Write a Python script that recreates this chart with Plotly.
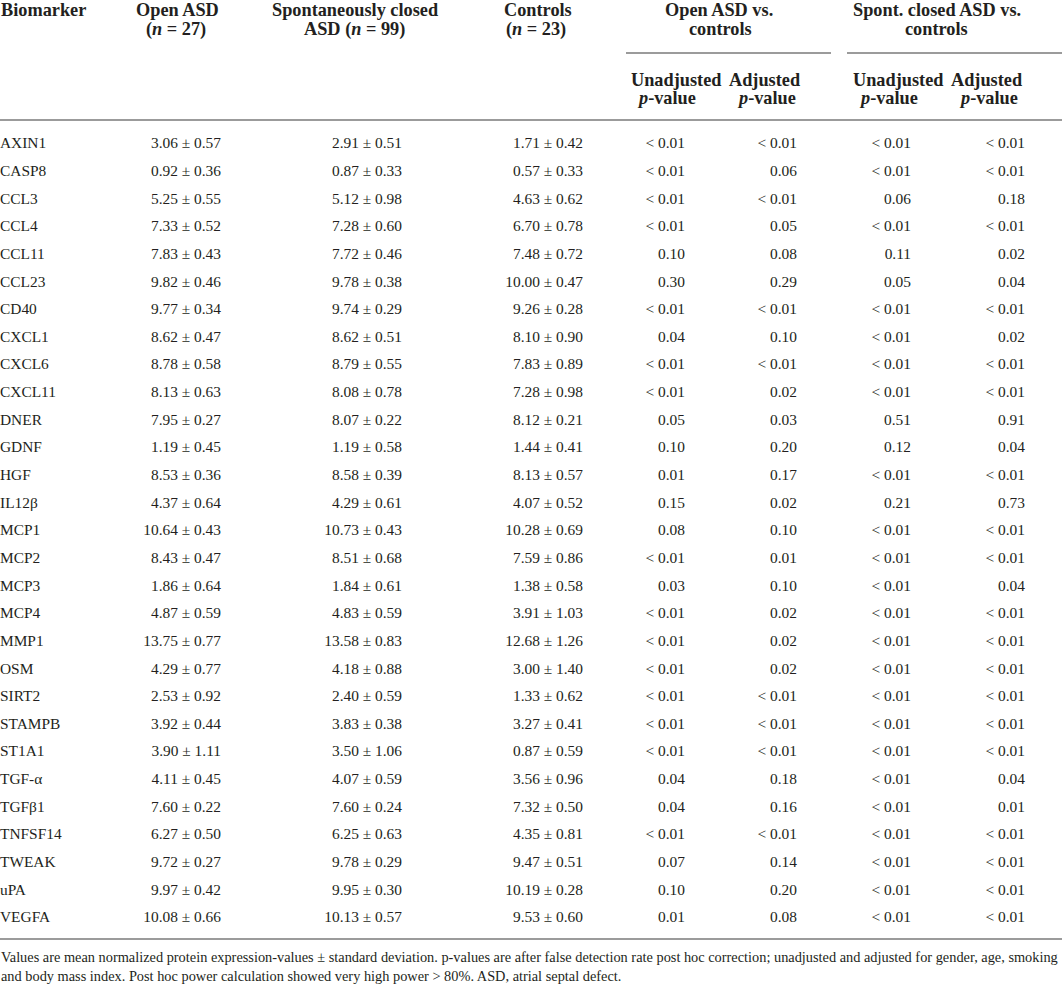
import plotly.graph_objects as go

# ---------------- data ----------------
biomarkers = ["AXIN1", "CASP8", "CCL3", "CCL4", "CCL11", "CCL23", "CD40", "CXCL1", "CXCL6",
              "CXCL11", "DNER", "GDNF", "HGF", "IL12β", "MCP1", "MCP2", "MCP3", "MCP4", "MMP1",
              "OSM", "SIRT2", "STAMPB", "ST1A1", "TGF-α", "TGFβ1", "TNFSF14", "TWEAK", "uPA", "VEGFA"]

open_mean = [3.06, 0.92, 5.25, 7.33, 7.83, 9.82, 9.77, 8.62, 8.78, 8.13, 7.95, 1.19, 8.53, 4.37, 10.64,
             8.43, 1.86, 4.87, 13.75, 4.29, 2.53, 3.92, 3.90, 4.11, 7.60, 6.27, 9.72, 9.97, 10.08]
open_sd = [0.57, 0.36, 0.55, 0.52, 0.43, 0.46, 0.34, 0.47, 0.58, 0.63, 0.27, 0.45, 0.36, 0.64, 0.43,
           0.47, 0.64, 0.59, 0.77, 0.77, 0.92, 0.44, 1.11, 0.45, 0.22, 0.50, 0.27, 0.42, 0.66]
closed_mean = [2.91, 0.87, 5.12, 7.28, 7.72, 9.78, 9.74, 8.62, 8.79, 8.08, 8.07, 1.19, 8.58, 4.29, 10.73,
               8.51, 1.84, 4.83, 13.58, 4.18, 2.40, 3.83, 3.50, 4.07, 7.60, 6.25, 9.78, 9.95, 10.13]
closed_sd = [0.51, 0.33, 0.98, 0.60, 0.46, 0.38, 0.29, 0.51, 0.55, 0.78, 0.22, 0.58, 0.39, 0.61, 0.43,
             0.68, 0.61, 0.59, 0.83, 0.88, 0.59, 0.38, 1.06, 0.59, 0.24, 0.63, 0.29, 0.30, 0.57]
ctrl_mean = [1.71, 0.57, 4.63, 6.70, 7.48, 10.00, 9.26, 8.10, 7.83, 7.28, 8.12, 1.44, 8.13, 4.07, 10.28,
             7.59, 1.38, 3.91, 12.68, 3.00, 1.33, 3.27, 0.87, 3.56, 7.32, 4.35, 9.47, 10.19, 9.53]
ctrl_sd = [0.42, 0.33, 0.62, 0.78, 0.72, 0.47, 0.28, 0.90, 0.89, 0.98, 0.21, 0.41, 0.57, 0.52, 0.69,
           0.86, 0.58, 1.03, 1.26, 1.40, 0.62, 0.41, 0.59, 0.96, 0.50, 0.81, 0.51, 0.28, 0.60]

open_unadj = ["<0.01", "<0.01", "<0.01", "<0.01", "0.10", "0.30", "<0.01", "0.04", "<0.01", "<0.01",
              "0.05", "0.10", "0.01", "0.15", "0.08", "<0.01", "0.03", "<0.01", "<0.01", "<0.01",
              "<0.01", "<0.01", "<0.01", "0.04", "0.04", "<0.01", "0.07", "0.10", "0.01"]
open_adj = ["<0.01", "0.06", "<0.01", "0.05", "0.08", "0.29", "<0.01", "0.10", "<0.01", "0.02",
            "0.03", "0.20", "0.17", "0.02", "0.10", "0.01", "0.10", "0.02", "0.02", "0.02",
            "<0.01", "<0.01", "<0.01", "0.18", "0.16", "<0.01", "0.14", "0.20", "0.08"]
closed_unadj = ["<0.01", "<0.01", "0.06", "<0.01", "0.11", "0.05", "<0.01", "<0.01", "<0.01", "<0.01",
                "0.51", "0.12", "<0.01", "0.21", "<0.01", "<0.01", "<0.01", "<0.01", "<0.01", "<0.01",
                "<0.01", "<0.01", "<0.01", "<0.01", "<0.01", "<0.01", "<0.01", "<0.01", "<0.01"]
closed_adj = ["<0.01", "<0.01", "0.18", "<0.01", "0.02", "0.04", "<0.01", "0.02", "<0.01", "<0.01",
              "0.91", "0.04", "<0.01", "0.73", "<0.01", "<0.01", "0.04", "<0.01", "<0.01", "<0.01",
              "<0.01", "<0.01", "<0.01", "0.04", "0.01", "<0.01", "<0.01", "<0.01", "<0.01"]

header_top = ["Biomarker", "Open ASD", "Spontaneously closed", "Controls",
              "Open ASD vs.", "Spont. closed ASD vs."]
header_second = ["", "(<i>n</i> = 27)", "ASD (<i>n</i> = 99)", "(<i>n</i> = 23)", "controls", "controls"]
sub_top = ["Unadjusted", "Adjusted", "Unadjusted", "Adjusted"]
sub_second = ["<i>p</i>-value", "<i>p</i>-value", "<i>p</i>-value", "<i>p</i>-value"]

footnote = [
    "Values are mean normalized protein expression-values ± standard deviation. p-values are after false "
    "detection rate post hoc correction; unadjusted and adjusted for gender, age, smoking",
    "and body mass index. Post hoc power calculation showed very high power &gt; 80%. ASD, atrial septal defect.",
]

# ---------------- layout geometry ----------------
W, H = 1062, 984
FONT = "Liberation Serif"
TXT = "#231f20"
LINE = "#7a7a7a"
BODY = 15.4
HEAD = 18.3
row0, step = 144.5, 27.64
rows_y = [row0 + i * step for i in range(len(biomarkers))]

val_right = [221, 402, 583]
p_right = [685, 797, 911, 1025]
top_x = [0, 177, 355, 538, 719, 937]
top_anchor = ["left", "center", "center", "center", "center", "center"]
second_x = [0, 176, 354, 536, 720, 936]
sub_top_x = [676, 764, 898, 986]
sub_second_x = [666, 766, 888, 988]


def fmt_val(m, s):
    return f"{m:.2f} ± {s:.2f}"


def fmt_p(p):
    return "&lt; 0.01" if p.startswith("<") else p


fig = go.Figure()

# biomarker names
fig.add_trace(go.Scatter(
    x=[0] * len(biomarkers), y=rows_y, text=biomarkers, mode="text",
    textposition="middle right", textfont=dict(family=FONT, size=BODY, color=TXT),
    hoverinfo="skip", showlegend=False))

for xr, means, sds in zip(val_right, [open_mean, closed_mean, ctrl_mean],
                          [open_sd, closed_sd, ctrl_sd]):
    fig.add_trace(go.Scatter(
        x=[xr] * len(means), y=rows_y, text=[fmt_val(m, s) for m, s in zip(means, sds)],
        mode="text", textposition="middle left",
        textfont=dict(family=FONT, size=BODY, color=TXT), hoverinfo="skip", showlegend=False))

for xr, ps in zip(p_right, [open_unadj, open_adj, closed_unadj, closed_adj]):
    fig.add_trace(go.Scatter(
        x=[xr] * len(ps), y=rows_y, text=[fmt_p(p) for p in ps],
        mode="text", textposition="middle left",
        textfont=dict(family=FONT, size=BODY, color=TXT), hoverinfo="skip", showlegend=False))

ann = []
hfont = dict(family=FONT, size=HEAD, color=TXT)
for t, x, a in zip(header_top, top_x, top_anchor):
    ann.append(dict(x=x, y=10, text=f"<b>{t}</b>", xanchor=a, yanchor="middle", font=hfont))
for t, x, a in zip(header_second, second_x, top_anchor):
    if t:
        ann.append(dict(x=x, y=29, text=f"<b>{t}</b>", xanchor=a, yanchor="middle", font=hfont))
for t, x in zip(sub_top, sub_top_x):
    ann.append(dict(x=x, y=80, text=f"<b>{t}</b>", xanchor="center", yanchor="middle", font=hfont))
for t, x in zip(sub_second, sub_second_x):
    ann.append(dict(x=x, y=98, text=f"<b>{t}</b>", xanchor="center", yanchor="middle", font=hfont))
for i, t in enumerate(footnote):
    ann.append(dict(x=0, y=957 + i * 19, text=t, xanchor="left", yanchor="middle",
                    font=dict(family=FONT, size=14.35, color=TXT)))
for a in ann:
    a.update(xref="x", yref="y", showarrow=False, borderpad=0)

shapes = [
    dict(type="line", x0=626, x1=831, y0=53, y1=53),
    dict(type="line", x0=847, x1=1062, y0=53, y1=53),
    dict(type="line", x0=0, x1=1062, y0=120, y1=120),
    dict(type="line", x0=0, x1=1062, y0=939, y1=939),
]
for s in shapes:
    s.update(xref="x", yref="y", line=dict(color=LINE, width=1.3), layer="below")

fig.update_layout(
    width=W, height=H, margin=dict(l=0, r=0, t=0, b=0),
    paper_bgcolor="white", plot_bgcolor="white",
    xaxis=dict(range=[0, W], visible=False, fixedrange=True),
    yaxis=dict(range=[H, 0], visible=False, fixedrange=True),
    annotations=ann, shapes=shapes,
)

fig.write_html("out.html", config={"displayModeBar": False},
               post_script="document.body.style.margin='0';document.body.style.overflow='hidden';")
